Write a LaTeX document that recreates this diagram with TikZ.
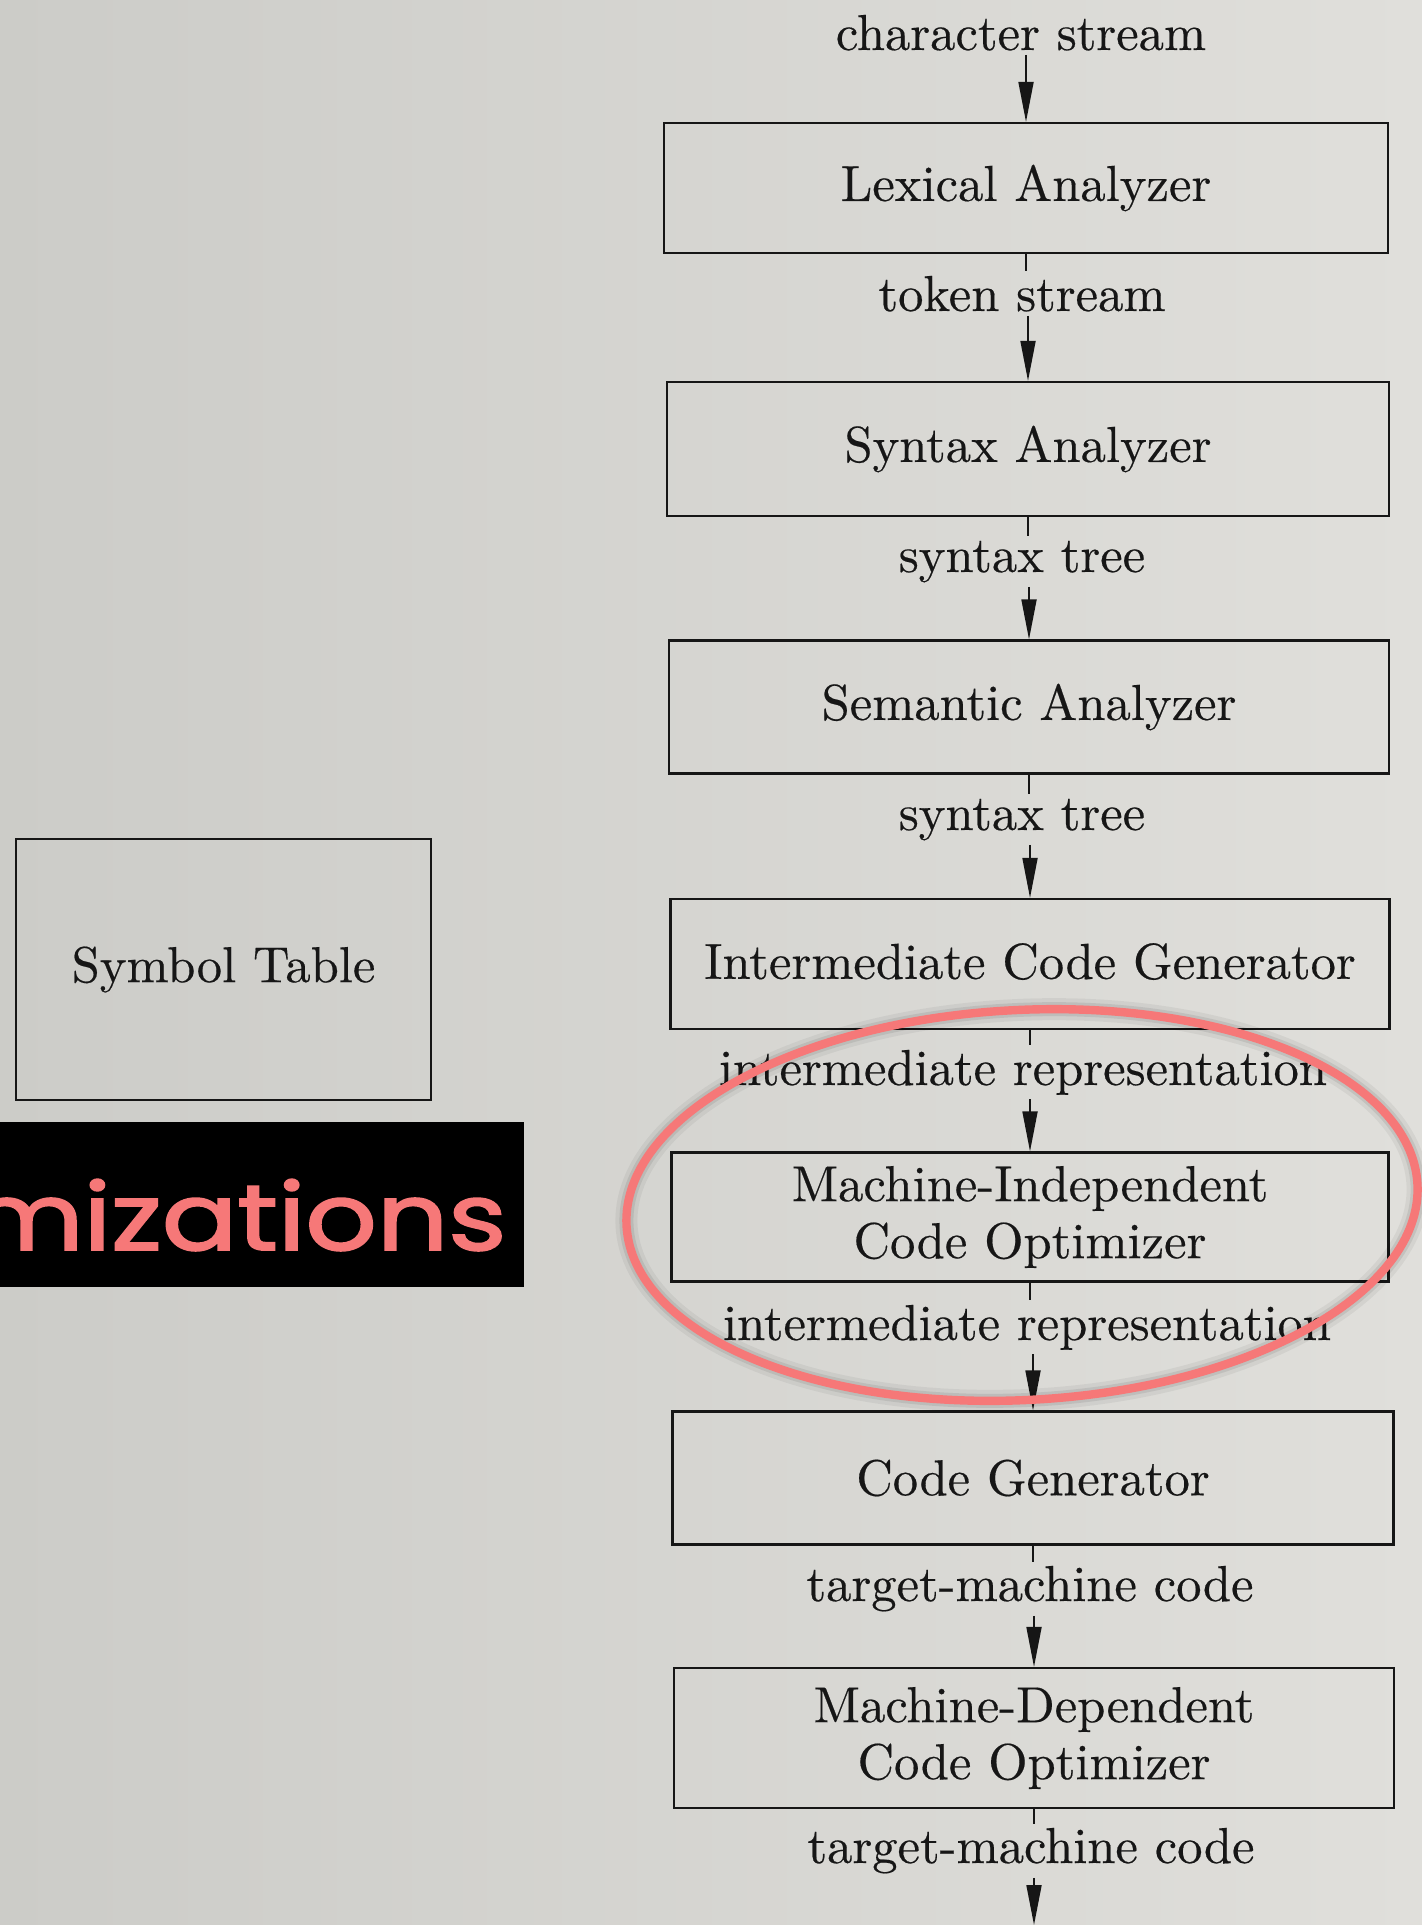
\documentclass[tikz,border=0pt]{standalone}
\usepackage{fontspec}
\setmainfont{lmroman10-regular.otf}[FakeBold=0.35]
\newfontfamily\handfont{Poppins}[FakeBold=2]
\usetikzlibrary{arrows.meta}

\definecolor{paperL}{RGB}{204,204,200}
\definecolor{paperR}{RGB}{224,223,219}
\definecolor{ink}{RGB}{22,22,22}
\definecolor{marker}{RGB}{246,120,120}

\begin{document}
\begin{tikzpicture}[x=0.5pt,y=-0.5pt,
  bodyfont/.style={font=\fontsize{25.3}{28.5}\selectfont},
  stage/.style={draw=ink, line width=1.1pt, inner sep=0pt, align=center,
    text=ink, bodyfont},
  flow/.style={anchor=base, inner sep=2pt, text=ink, bodyfont},
  stub/.style={draw=ink, line width=0.9pt},
  arr/.style={draw=ink, line width=0.9pt,
    -{Triangle[length=20pt,width=7.5pt]}}]

% paper
\useasboundingbox (0,0) rectangle (1422,1925);
\shade[left color=paperL, right color=paperR] (0,0) rectangle (1422,1925);

% compiler phases
\node[stage, minimum width=362pt,   minimum height=65pt]   (lex)  at (1026,188)  {Lexical Analyzer};
\node[stage, minimum width=361pt,   minimum height=67pt]   (syn)  at (1028,449)  {Syntax Analyzer};
\node[stage, minimum width=360pt,   minimum height=66.5pt] (sem)  at (1029,707)  {Semantic Analyzer};
\node[stage, minimum width=359.5pt, minimum height=65pt]   (icg)  at (1030,964)  {\raisebox{3pt}{Intermediate Code Generator}};
\node[stage, minimum width=358.5pt, minimum height=64.5pt] (mico) at (1030,1217) {Machine-Independent\\Code Optimizer};
\node[stage, minimum width=360.5pt, minimum height=66.5pt] (cg)   at (1033,1478) {Code Generator};
\node[stage, minimum width=360pt,   minimum height=70pt]   (mdco) at (1034,1738) {Machine-Dependent\\Code Optimizer};
\node[stage, minimum width=207.5pt, minimum height=130.5pt] (symtab) at (223.5,969.5) {Symbol Table};

% data passed between phases
\node[flow] (cs)  at (1021,50)   {character stream};
\node[flow] (ts)  at (1022,311)  {token stream};
\node[flow] (st1) at (1022,572)  {syntax tree};
\node[flow] (st2) at (1022,830)  {syntax tree};
\node[flow] (ir1) at (1023,1085) {intermediate representation};
\node[flow] (ir2) at (1027,1340) {intermediate representation};
\node[flow] (tm1) at (1030,1601) {target-machine code};
\node[flow] (tm2) at (1031,1863) {target-machine code};
\coordinate (sink) at (1034,1925);

% connectors
\draw[arr]  (lex.north |- cs.south) -- (lex.north);
\draw[stub] (lex.south) -- (lex.south |- ts.north);
\draw[arr]  (syn.north |- ts.south) -- (syn.north);
\draw[stub] (syn.south) -- (syn.south |- st1.north);
\draw[arr]  (sem.north |- st1.south) -- (sem.north);
\draw[stub] (sem.south) -- (sem.south |- st2.north);
\draw[arr]  (icg.north |- st2.south) -- (icg.north);
\draw[stub] (icg.south) -- (icg.south |- ir1.north);
\draw[arr]  (mico.north |- ir1.south) -- (mico.north);
\draw[stub] (mico.south) -- (mico.south |- ir2.north);
\draw[arr]  (cg.north |- ir2.south) -- (cg.north);
\draw[stub] (cg.south) -- (cg.south |- tm1.north);
\draw[arr]  (mdco.north |- tm1.south) -- (mdco.north);
\draw[stub] (mdco.south) -- (mdco.south |- tm2.north);
\draw[arr]  (sink |- tm2.south) -- (sink);

% banner
\fill[black] (0,1122) rectangle (524,1287);
\begin{scope}
  \clip (0,1122) rectangle (524,1287);
  \node[anchor=base east, inner sep=0pt, text=marker, xscale=1.2,
    font=\handfont\fontsize{46.5}{50}\selectfont] (banner) at (507,1250) {mizations};
\end{scope}

% marker ring around the optimizer
\begin{scope}[rotate around={3:(1022,1205)}]
  \draw[black, opacity=0.05, line width=11pt] (1022,1205) ellipse [x radius=198pt, y radius=97.5pt];
  \draw[black, opacity=0.08, line width=7pt] (1022,1205) ellipse [x radius=198pt, y radius=97.5pt];
  \draw[marker, line width=4.2pt] (1022,1205) ellipse [x radius=198pt, y radius=97.5pt];
\end{scope}
\end{tikzpicture}
\end{document}
